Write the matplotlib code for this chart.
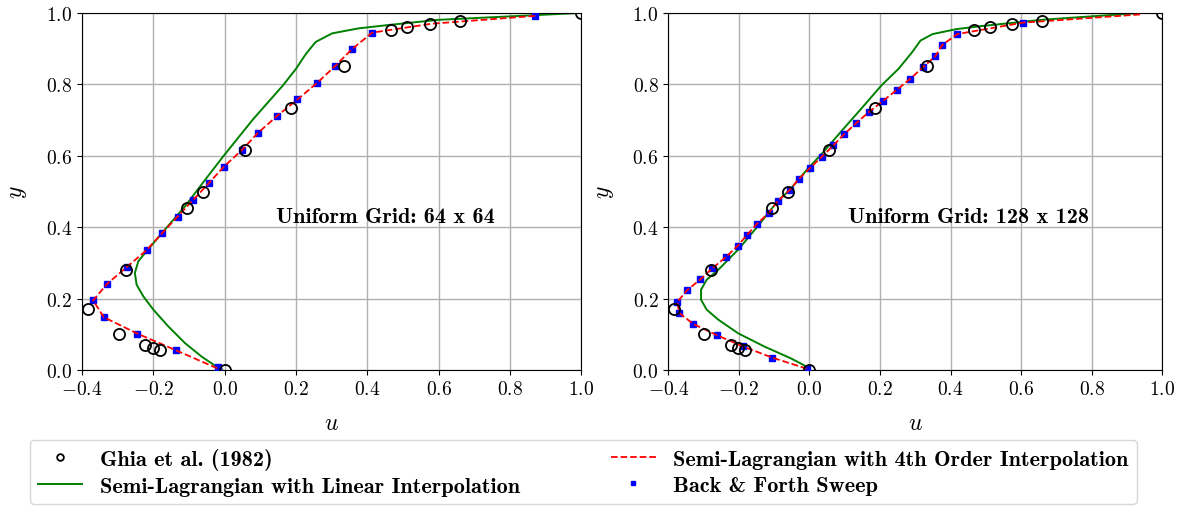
import matplotlib
matplotlib.use("Agg")
import matplotlib.pyplot as plt

plt.rcParams['font.family'] = 'serif'
plt.rcParams['font.serif'] = ['cmr10']
plt.rcParams['mathtext.fontset'] = 'cm'
plt.rcParams['axes.formatter.use_mathtext'] = True
plt.rcParams['font.size'] = 14

# Ghia et al. (1982) reference, Re = 1000
ghia_y = [1.0, 0.9766, 0.9688, 0.9609, 0.9531, 0.8516, 0.7344, 0.6172, 0.5,
          0.4531, 0.2813, 0.1719, 0.1016, 0.0703, 0.0625, 0.0547, 0.0]
ghia_u = [1.0, 0.6593, 0.5749, 0.5112, 0.4660, 0.3330, 0.1872, 0.0570, -0.0608,
          -0.1065, -0.2781, -0.3829, -0.2973, -0.2222, -0.2020, -0.1811, 0.0]

# 64 x 64 grid
lin64_y = [1.0, 0.994, 0.981, 0.967, 0.957, 0.943, 0.919, 0.886, 0.844, 0.797, 0.703,
           0.600, 0.534, 0.459, 0.394, 0.333, 0.305, 0.272, 0.239, 0.206, 0.169,
           0.122, 0.075, 0.037, 0.009, 0.002]
lin64_u = [0.99, 0.87, 0.60, 0.464, 0.375, 0.301, 0.255, 0.228, 0.200, 0.163, 0.080,
           -0.003, -0.054, -0.111, -0.167, -0.219, -0.242, -0.252, -0.247, -0.228, -0.200,
           -0.158, -0.111, -0.064, -0.022, -0.008]
bf64_y = [0.992, 0.945, 0.898, 0.852, 0.805, 0.758, 0.711, 0.664, 0.617, 0.570, 0.523,
          0.477, 0.430, 0.383, 0.336, 0.289, 0.242, 0.195, 0.148, 0.102, 0.055, 0.008]
bf64_u = [0.870, 0.413, 0.356, 0.310, 0.260, 0.204, 0.146, 0.093, 0.049, -0.002, -0.045,
          -0.088, -0.132, -0.176, -0.219, -0.274, -0.329, -0.369, -0.339, -0.245, -0.136, -0.020]
ho64_y = [0.992, 0.97, 0.945, 0.898, 0.852, 0.805, 0.758, 0.711, 0.664, 0.617, 0.570, 0.523,
          0.477, 0.430, 0.383, 0.336, 0.289, 0.242, 0.195, 0.148, 0.102, 0.055, 0.0]
ho64_u = [0.870, 0.58, 0.413, 0.356, 0.310, 0.260, 0.204, 0.146, 0.093, 0.049, -0.002, -0.045,
          -0.088, -0.132, -0.176, -0.219, -0.274, -0.329, -0.369, -0.339, -0.245, -0.136, -0.01]

# 128 x 128 grid
lin128_y = [1.0, 0.981, 0.963, 0.955, 0.941, 0.923, 0.890, 0.844, 0.797, 0.732, 0.667,
            0.611, 0.560, 0.504, 0.473, 0.403, 0.337, 0.281, 0.253, 0.225, 0.197, 0.169,
            0.141, 0.103, 0.066, 0.033, 0.014, 0.004]
lin128_u = [0.937, 0.658, 0.484, 0.417, 0.349, 0.315, 0.291, 0.253, 0.204, 0.147, 0.089,
            0.040, -0.008, -0.056, -0.090, -0.146, -0.202, -0.258, -0.291, -0.307, -0.307,
            -0.291, -0.258, -0.202, -0.128, -0.053, -0.016, -0.002]
bf128_y = [0.973, 0.941, 0.910, 0.879, 0.848, 0.816, 0.785, 0.754, 0.723, 0.691, 0.660,
           0.629, 0.598, 0.566, 0.535, 0.504, 0.473, 0.441, 0.410, 0.379, 0.348, 0.316,
           0.285, 0.254, 0.223, 0.191, 0.160, 0.129, 0.098, 0.066, 0.035, 0.004]
bf128_u = [0.605, 0.419, 0.376, 0.357, 0.322, 0.286, 0.248, 0.209, 0.169, 0.132, 0.098,
           0.068, 0.036, 0.002, -0.030, -0.056, -0.090, -0.114, -0.148, -0.176, -0.203,
           -0.237, -0.275, -0.309, -0.347, -0.374, -0.369, -0.329, -0.263, -0.188, -0.106, -0.008]
ho128_y = [0.996] + bf128_y
ho128_u = [0.937] + bf128_u

panels = [
    (lin64_u, lin64_y, ho64_u, ho64_y, bf64_u, bf64_y, 'Uniform Grid: 64 x 64'),
    (lin128_u, lin128_y, ho128_u, ho128_y, bf128_u, bf128_y, 'Uniform Grid: 128 x 128'),
]

fig = plt.figure(figsize=(11.89, 5.1), dpi=100)
axes = [fig.add_axes([0.069, 0.2725, 0.42, 0.70]),
        fig.add_axes([0.562, 0.2725, 0.4155, 0.70])]

for ax, (lu, ly, hu, hy, bu, by, title) in zip(axes, panels):
    ax.grid(True, color='#b0b0b0', linewidth=1.0)
    ax.set_axisbelow(True)
    ax.plot(ghia_u, ghia_y, 'o', mfc='none', mec='black', ms=8, mew=1.3,
            label='Ghia et al. (1982)', zorder=5)
    ax.plot(lu, ly, '-', color='green', lw=1.4,
            label='Semi-Lagrangian with Linear Interpolation')
    ax.plot(hu, hy, '--', color='red', lw=1.3,
            label='Semi-Lagrangian with 4th Order Interpolation', zorder=4)
    ax.plot(bu, by, 's', color='blue', ms=5, ls='none',
            label='Back & Forth Sweep', zorder=3)
    ax.set_xlim(-0.4, 1.0)
    ax.set_ylim(0.0, 1.0)
    ax.set_xlabel('$u$', fontsize=17, labelpad=10)
    ax.set_ylabel('$y$', fontsize=17, labelpad=12)
    ax.text(0.45, 0.43, title, ha='center', va='center', fontsize=16,
            family='cmb10')

handles, labels = axes[0].get_legend_handles_labels()
fig.legend(handles, labels, ncol=2, loc='upper left',
           bbox_to_anchor=(30 / 1189, 1 - 441 / 510), bbox_transform=fig.transFigure,
           prop={'family': 'cmb10', 'size': 16}, markerscale=0.6,
           columnspacing=4.1, borderaxespad=0.0, labelspacing=0.3, borderpad=0.35,
           handlelength=2.0, frameon=True, fancybox=True)

fig.savefig('out.png', dpi=100)
